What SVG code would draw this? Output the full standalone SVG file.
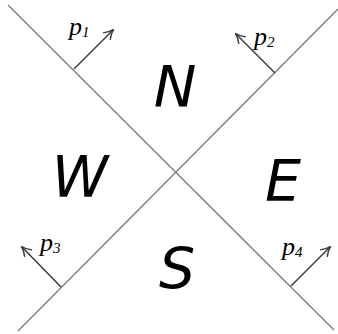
<svg xmlns="http://www.w3.org/2000/svg" width="338" height="334" viewBox="0 0 338 334">
<style>
.ln{stroke:#7a7a7a;stroke-width:1.3;fill:none}
.ar{stroke:#3a3a3a;stroke-width:1.5;fill:none;marker-end:url(#h)}
.big{font-family:"DejaVu Sans",sans-serif;font-style:italic;font-size:57px;fill:#000;text-anchor:middle}
.p{font-family:"Liberation Serif",serif;font-style:italic;font-size:26px;fill:#000}
.sub{font-size:15px}
</style>
<defs>
<marker id="h" viewBox="0 0 12 12" refX="10" refY="6" markerWidth="12" markerHeight="12" markerUnits="userSpaceOnUse" orient="auto">
<path d="M1,1 Q6,5 11,6 Q6,7 1,11" stroke="#3a3a3a" stroke-width="1.4" fill="none"/>
</marker>
</defs>
<rect width="338" height="334" fill="#fff"/>
<g id="connectors">
<line class="ln" x1="8" y1="5" x2="334" y2="330"/>
<line class="ln" x1="338" y1="9" x2="18" y2="331"/>
<line class="ar" x1="74" y1="69" x2="113" y2="30"/>
<line class="ar" x1="275" y1="73" x2="236" y2="34"/>
<line class="ar" x1="61" y1="287" x2="22" y2="247"/>
<line class="ar" x1="291" y1="286" x2="330" y2="247"/>
</g>
<g id="N"><text class="big" x="175" y="107">N</text></g>
<g id="W"><text class="big" x="80" y="197">W</text></g>
<g id="E"><text class="big" x="283" y="201">E</text></g>
<g id="S"><text class="big" x="177" y="289">S</text></g>
<g id="p1"><text class="p" x="69" y="35">p<tspan class="sub" dy="2">1</tspan></text></g>
<g id="p2"><text class="p" x="254" y="45">p<tspan class="sub" dy="2">2</tspan></text></g>
<g id="p3"><text class="p" x="40" y="251">p<tspan class="sub" dy="2">3</tspan></text></g>
<g id="p4"><text class="p" x="282" y="255">p<tspan class="sub" dy="2">4</tspan></text></g>
</svg>
